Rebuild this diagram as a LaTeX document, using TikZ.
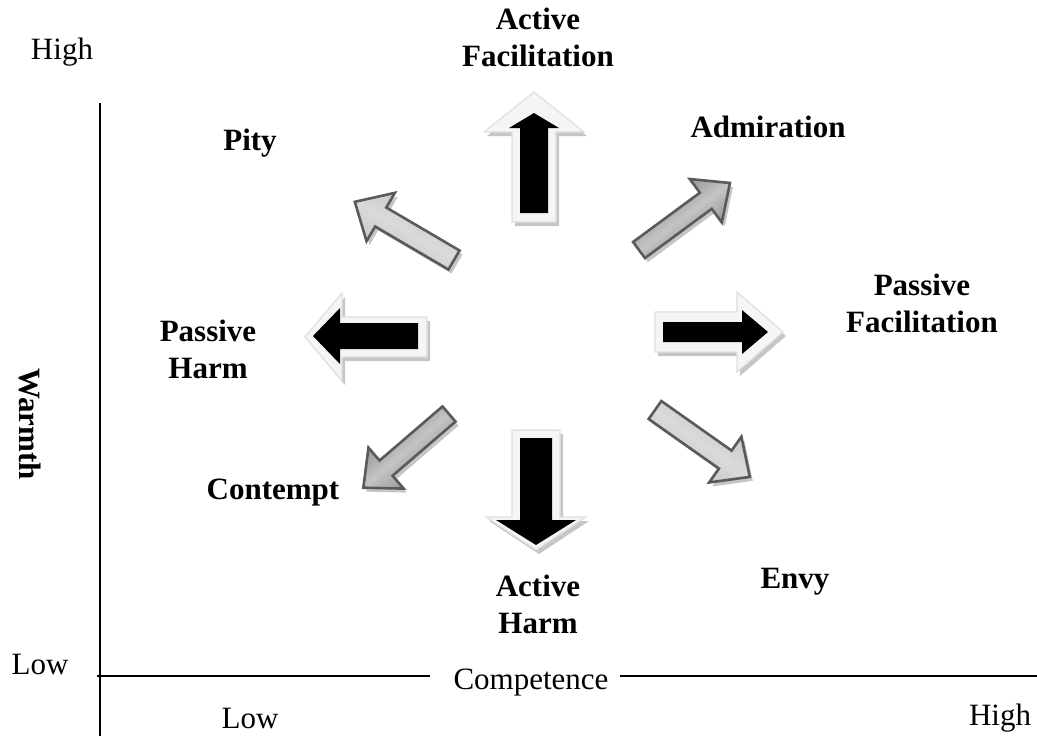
\documentclass[tikz,border=0pt]{standalone}
\usepackage{fontspec}
\setmainfont{Liberation Serif}
\usetikzlibrary{calc}

% block arrow outline, tail at origin, pointing along +x
% #1 length, #2 shaft half width, #3 head half width, #4 head length
\newcommand{\arrowshape}[4]{(0,-#2) -- ({#1-#4},-#2) -- ({#1-#4},-#3) -- (#1,0) -- ({#1-#4},#3) -- ({#1-#4},#2) -- (0,#2) -- cycle}

% x, y, angle, length, shaft, head, head length, style
\newcommand{\blockarrow}[8]{%
  \begin{scope}[shift={(#1,#2)}]
    \fill[arrowshadow, shift={(3,4)}, rotate=#3] \arrowshape{#4}{#5}{#6}{#7};
    \path[#8, rotate=#3] \arrowshape{#4}{#5}{#6}{#7};
  \end{scope}}

\newcommand{\innerarrow}[7]{%
  \begin{scope}[shift={(#1,#2)}]
    \fill[black, rotate=#3] \arrowshape{#4}{#5}{#6}{#7};
  \end{scope}}

\newcommand{\labfont}{\fontsize{15.5pt}{18.5pt}\selectfont}

\definecolor{edgegray}{HTML}{5A5A5A}
\definecolor{darkside}{HTML}{7A7A7A}
\definecolor{darkmid}{HTML}{C4C4C4}
\definecolor{lightside}{HTML}{C0C0C0}
\definecolor{lightmid}{HTML}{DADADA}

\tikzset{
  arrowshadow/.style={fill=gray!45},
  darkarrow/.style={draw=edgegray, line width=1.3pt, line join=miter,
    top color=darkside, bottom color=darkside, middle color=darkmid, shading angle=#1},
  lightarrow/.style={draw=edgegray, line width=1.3pt, line join=miter,
    top color=lightside, bottom color=lightside, middle color=lightmid, shading angle=#1},
  whitearrow/.style={fill=gray!8, draw=gray!25, line width=0.6pt},
  lab/.style={font=\labfont\bfseries, align=center, inner sep=0pt},
  axlab/.style={font=\labfont, inner sep=0pt}
}

\begin{document}
\begin{tikzpicture}[x=0.5pt, y=-0.5pt]

\useasboundingbox (0,0) rectangle (1037,736);

% axes
\draw [line width=1pt] (100,103) -- (100,736);
\node [axlab] (comp) at (531,683) {Competence};
\draw [line width=1pt] (97,676) -- (430,676);
\draw [line width=1pt] (620,676) -- (1037,676);

\node [axlab] (highw) at (62,52) {High};
\node [axlab] (loww) at (40,664) {Low};
\node [axlab] (lowc) at (250,718) {Low};
\node [axlab] (highc) at (1000,718) {High};
\node [lab, rotate=-90] (warmth) at (30,424) {Warmth};

% diagonal arrows
\blockarrow{639}{250}{36.4}{113}{10}{27}{30}{darkarrow=36.4}
\blockarrow{454}{260}{149.6}{115}{11}{28}{30}{lightarrow=149.6}
\blockarrow{449}{414}{220.7}{113}{10}{27}{30}{darkarrow=220.7}
\blockarrow{655}{410}{-35.2}{116}{11}{28}{30}{lightarrow=-35.2}

% black arrows in white frames
\blockarrow{534}{222}{90}{130}{22}{50}{40}{whitearrow}
\innerarrow{534}{213}{90}{100}{14}{25}{15}
\blockarrow{536}{430}{-90}{120}{24}{50}{33}{whitearrow}
\innerarrow{536}{438}{-90}{107}{16}{40}{25}
\blockarrow{655}{332}{0}{128}{20}{40}{46}{whitearrow}
\innerarrow{663}{332}{0}{105}{10}{22}{26}
\blockarrow{427}{337}{180}{122}{20}{44}{37}{whitearrow}
\innerarrow{418}{336}{180}{105}{13}{28}{27}

% labels
\node [lab] (actfac) at (538,37) {Active\\Facilitation};
\node [lab] (admir) at (768,127) {Admiration};
\node [lab] (pity) at (250,143) {Pity};
\node [lab] (pasfac) at (922,303) {Passive\\Facilitation};
\node [lab] (pasharm) at (208,349) {Passive\\Harm};
\node [lab] (contempt) at (273,493) {Contempt};
\node [lab] (actharm) at (538,604) {Active\\Harm};
\node [lab] (envy) at (795,582) {Envy};

\end{tikzpicture}
\end{document}
